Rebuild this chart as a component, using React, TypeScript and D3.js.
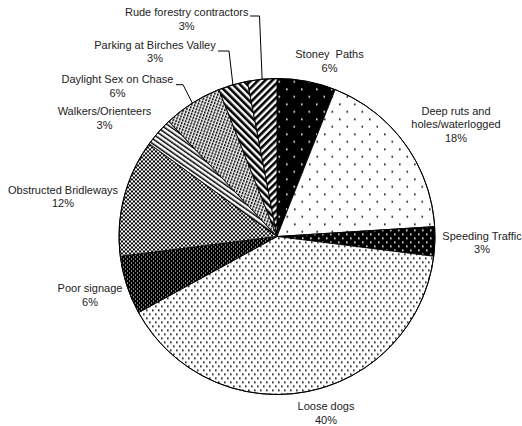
import React from "react";
import * as d3 from "d3";

// ---- data ----
const categories = [
  "Stoney  Paths",
  "Deep ruts and|holes/waterlogged",
  "Speeding Traffic",
  "Loose dogs",
  "Poor signage",
  "Obstructed Bridleways",
  "Walkers/Orienteers",
  "Daylight Sex on Chase",
  "Parking at Birches Valley",
  "Rude forestry contractors",
];
const values = [6, 18, 3, 40, 6, 12, 3, 6, 3, 3];
const percentLabels = ["6%", "18%", "3%", "40%", "6%", "12%", "3%", "6%", "3%", "3%"];

// ---- layout (not data) ----
const W = 522;
const H = 426;
const CX = 277;
const CY = 236.5;
const R = 158;
const LINE = 13.7;
const patternIds = [
  "p-stoney",
  "p-deep",
  "p-speed",
  "p-dogs",
  "p-sign",
  "p-obst",
  "p-walk",
  "p-day",
  "p-park",
  "p-rude",
];
// label anchor (center x, first baseline y), optional leader [textEndX, elbowX, y]
const labelLayout: { x: number; y: number; leader?: [number, number, number] }[] = [
  { x: 329.5, y: 58 },
  { x: 456, y: 114.7 },
  { x: 482, y: 239.7 },
  { x: 326, y: 410 },
  { x: 90, y: 292.3 },
  { x: 63, y: 193.5 },
  { x: 104.5, y: 115.3 },
  { x: 117.5, y: 83, leader: [176, 183, 84.7] },
  { x: 155, y: 48.7, leader: [218, 229, 51] },
  { x: 186.7, y: 16, leader: [250, 259.5, 16] },
];

function Patterns() {
  return (
    <defs>
      <pattern id="p-stoney" patternUnits="userSpaceOnUse" width="15" height="15" x={CX} y={0}>
        <rect width="15" height="15" fill="#000" />
        <rect x="2" y="2" width="1.6" height="1.6" fill="#fff" />
        <rect x="9.5" y="9.5" width="1.6" height="1.6" fill="#fff" />
      </pattern>
      <pattern id="p-deep" patternUnits="userSpaceOnUse" width="15" height="15">
        <rect width="15" height="15" fill="#fff" />
        <rect x="2" y="2" width="1.6" height="1.6" fill="#000" />
        <rect x="9.5" y="9.5" width="1.6" height="1.6" fill="#000" />
      </pattern>
      <pattern id="p-speed" patternUnits="userSpaceOnUse" width="8" height="8">
        <rect width="8" height="8" fill="#000" />
        <rect x="1" y="1" width="1.6" height="1.6" fill="#fff" />
        <rect x="5" y="5" width="1.6" height="1.6" fill="#fff" />
      </pattern>
      <pattern id="p-dogs" patternUnits="userSpaceOnUse" width="6" height="8">
        <rect width="6" height="8" fill="#fff" />
        <rect x="1" y="1" width="1.6" height="1.6" fill="#000" />
        <rect x="4" y="5" width="1.6" height="1.6" fill="#000" />
      </pattern>
      <pattern id="p-sign" patternUnits="userSpaceOnUse" width="4" height="4">
        <rect width="4" height="4" fill="#000" />
        <rect x="0" y="0" width="1" height="1" fill="#fff" shapeRendering="crispEdges" />
        <rect x="2" y="2" width="1" height="1" fill="#fff" shapeRendering="crispEdges" />
      </pattern>
      <pattern id="p-obst" patternUnits="userSpaceOnUse" width="4" height="4">
        <rect width="4" height="4" fill="#fff" />
        <rect x="0" y="0" width="2" height="2" fill="#000" shapeRendering="crispEdges" />
        <rect x="2" y="2" width="2" height="2" fill="#000" shapeRendering="crispEdges" />
      </pattern>
      <pattern
        id="p-walk"
        patternUnits="userSpaceOnUse"
        width="4"
        height="4"
        patternTransform="rotate(-55)"
      >
        <rect width="4" height="4" fill="#fff" />
        <rect x="0" y="0" width="1.5" height="4" fill="#000" />
      </pattern>
      <pattern
        id="p-day"
        patternUnits="userSpaceOnUse"
        width="3"
        height="3"
        patternTransform="rotate(20)"
      >
        <rect width="3" height="3" fill="#fff" />
        <rect x="0" y="0" width="1.5" height="2.3" fill="#000" />
      </pattern>
      <pattern
        id="p-park"
        patternUnits="userSpaceOnUse"
        width="5"
        height="5"
        patternTransform="rotate(-45)"
      >
        <rect width="5" height="5" fill="#fff" />
        <rect x="0" y="0" width="2.6" height="5" fill="#000" />
      </pattern>
      <pattern
        id="p-rude"
        patternUnits="userSpaceOnUse"
        width="5"
        height="5"
        patternTransform="rotate(45)"
      >
        <rect width="5" height="5" fill="#fff" />
        <rect x="0" y="0" width="2.6" height="5" fill="#000" />
      </pattern>
    </defs>
  );
}

export default function App() {
  const pie = d3.pie<number>().sort(null).value((d) => d)(values);
  const arc = d3.arc<d3.PieArcDatum<number>>().innerRadius(0).outerRadius(R);

  return (
    <svg
      width={W}
      height={H}
      style={{ position: "absolute", left: 0, top: 0, background: "#fff" }}
      fontFamily="'Liberation Sans', Arial, sans-serif"
      fontSize={11}
    >
      <Patterns />
      <rect width={W} height={H} fill="#fff" />
      <g transform={`translate(${CX},${CY})`}>
        {pie.map((d, i) => (
          <path
            key={i}
            d={arc(d) || ""}
            fill={`url(#${patternIds[i]})`}
            stroke="#000"
            strokeWidth={0.9}
            strokeLinejoin="round"
          />
        ))}
        <circle r={R} fill="none" stroke="#000" strokeWidth={1} />
      </g>
      {pie.map((d, i) => {
        const L = labelLayout[i];
        const lines = categories[i].split("|").concat([percentLabels[i]]);
        const mid = (d.startAngle + d.endAngle) / 2;
        const px = CX + R * Math.sin(mid);
        const py = CY - R * Math.cos(mid);
        return (
          <g key={i}>
            {L.leader && (
              <polyline
                points={`${L.leader[0]},${L.leader[2]} ${L.leader[1]},${L.leader[2]} ${px},${py}`}
                fill="none"
                stroke="#000"
                strokeWidth={1}
              />
            )}
            <text textAnchor="middle" fill="#222" style={{ whiteSpace: "pre" }}>
              {lines.map((t, j) => (
                <tspan key={j} x={L.x} y={L.y + j * LINE}>
                  {t}
                </tspan>
              ))}
            </text>
          </g>
        );
      })}
    </svg>
  );
}
